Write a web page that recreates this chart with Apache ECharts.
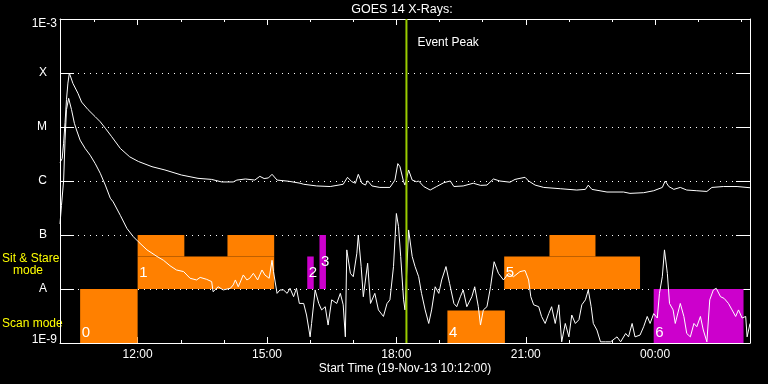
<!DOCTYPE html>
<html><head><meta charset="utf-8">
<script src="https://cdn.jsdelivr.net/npm/echarts@6/dist/echarts.min.js"></script>
<style>html,body{margin:0;padding:0;background:#000}#c{width:768px;height:384px}</style>
</head><body><div id="c"></div>
<script>
const chartTitle = 'GOES 14 X-Rays:';
const xAxisTitle = 'Start Time (19-Nov-13 10:12:00)';
const timeStart = '10:12';
const timeEnd = '02:12';
const xMajorTicks = ['12:00','15:00','18:00','21:00','00:00'];
const xMinorTicks = ['11:00','13:00','14:00','16:00','17:00','19:00','20:00','22:00','23:00','01:00','02:00'];
const yTickLabels = ['1E-9','A','B','C','M','X','1E-3'];
const yMin = 1e-9, yMax = 1e-3;
const eventPeakTime = '18:14';
const eventPeakLabel = 'Event Peak';
const modeLabels = ['Sit & Stare', 'mode', 'Scan mode'];

// GOES long channel (1-8 A), [time, W/m^2]
const longChannel = [['10:12',2.2e-6],['10:15',2.6e-6],['10:17',5.0e-6],['10:19',1.2e-5],['10:21',3.2e-5],['10:23',6.5e-5],['10:25',1.0e-4],['10:27',1.0e-4],['10:30',6.4e-5],['10:37',4.2e-5],['10:42',2.9e-5],['10:51',2.1e-5],['11:01',1.55e-5],['11:08',1.25e-5],['11:15',9.5e-6],['11:24',6.6e-6],['11:36',4.0e-6],['11:49',2.8e-6],['12:01',2.3e-6],['12:20',1.84e-6],['12:38',1.6e-6],['13:01',1.29e-6],['13:24',1.12e-6],['13:43',1.07e-6],['13:57',9.6e-7],['14:13',9.6e-7],['14:18',1.04e-6],['14:30',1.09e-6],['14:43',1.04e-6],['14:50',1.22e-6],['14:56',1.11e-6],['15:02',1.14e-6],['15:07',1.33e-6],['15:14',1.04e-6],['15:30',9.9e-7],['15:46',9.1e-7],['15:51',8.7e-7],['16:09',8.1e-7],['16:28',7.9e-7],['16:46',8.7e-7],['16:52',1.17e-6],['16:58',9.7e-7],['17:03',9.1e-7],['17:07',1.33e-6],['17:12',9.1e-7],['17:17',8.4e-7],['17:20',1.01e-6],['17:26',8.1e-7],['17:37',7.6e-7],['17:51',7.6e-7],['17:58',1.04e-6],['18:02',2.1e-6],['18:05',1.84e-6],['18:10',9.7e-7],['18:12',8.4e-7],['18:17',1.6e-6],['18:22',1.04e-6],['18:28',9.7e-7],['18:31',1.0e-6],['18:38',7.9e-7],['18:47',6.8e-7],['18:56',7.9e-7],['19:06',9.3e-7],['19:15',1.0e-6],['19:20',7.9e-7],['19:33',8.1e-7],['19:47',9.1e-7],['19:57',8.3e-7],['20:06',8.4e-7],['20:15',1.09e-6],['20:24',1.0e-6],['20:38',9.5e-7],['20:45',1.07e-6],['20:52',1.12e-6],['20:59',1.17e-6],['21:04',1.0e-6],['21:13',8.4e-7],['21:25',7.6e-7],['21:48',7.2e-7],['22:11',6.8e-7],['22:23',7.0e-7],['22:27',8.4e-7],['22:32',7.0e-7],['22:53',6.25e-7],['23:16',6.25e-7],['23:25',5.9e-7],['23:44',6.07e-7],['23:58',6.6e-7],['00:10',7.6e-7],['00:14',1.0e-6],['00:19',7.9e-7],['00:26',7.0e-7],['00:35',7.6e-7],['00:44',6.8e-7],['00:58',6.6e-7],['01:12',6.4e-7],['01:19',7.6e-7],['01:35',7.9e-7],['01:54',7.9e-7],['02:12',7.5e-7]];

// GOES short channel (0.5-4 A), [time, W/m^2]
const shortChannel = [['10:12',1.6e-7],['10:14',3.5e-7],['10:17',1.0e-6],['10:19',5.7e-6],['10:21',2.1e-5],['10:24',3.4e-5],['10:26',3.2e-5],['10:28',2.1e-5],['10:32',1.17e-5],['10:35',8.8e-6],['10:40',5.7e-6],['10:47',4.0e-6],['10:54',3.0e-6],['11:01',2.1e-6],['11:08',1.39e-6],['11:15',8.4e-7],['11:22',4.8e-7],['11:26',4.1e-7],['11:36',2.3e-7],['11:45',1.33e-7],['11:54',9.3e-8],['12:01',7.5e-8],['12:13',5.3e-8],['12:27',4.0e-8],['12:36',3.4e-8],['12:45',2.7e-8],['12:54',2.25e-8],['13:04',2.1e-8],['13:13',1.58e-8],['13:22',1.47e-8],['13:27',1.64e-8],['13:36',1.51e-8],['13:43',1.37e-8],['13:45',8.9e-9],['13:52',1.1e-8],['13:59',9.6e-9],['14:09',1.03e-8],['14:13',1.19e-8],['14:16',1.47e-8],['14:20',1.1e-8],['14:27',1.82e-8],['14:32',1.47e-8],['14:36',1.58e-8],['14:41',1.95e-8],['14:47',1.47e-8],['14:53',2.25e-8],['14:57',1.82e-8],['15:03',1.58e-8],['15:07',3.4e-8],['15:09',2.1e-8],['15:14',8.3e-9],['15:18',9.6e-9],['15:23',9.6e-9],['15:28',8.3e-9],['15:32',1.03e-8],['15:37',7.2e-9],['15:41',1.03e-8],['15:45',5.4e-9],['15:51',5.4e-9],['15:55',3.3e-9],['16:00',1.3e-9],['16:02',2.3e-9],['16:07',9.6e-9],['16:12',5.4e-9],['16:16',4.1e-9],['16:21',4.7e-9],['16:25',2.15e-9],['16:30',6.3e-9],['16:37',5.4e-9],['16:42',8.3e-9],['16:46',5.1e-9],['16:49',1.3e-9],['16:51',5.3e-8],['16:56',1.95e-8],['17:00',1.69e-8],['17:05',4.6e-8],['17:07',1.0e-7],['17:11',2.6e-8],['17:14',7.2e-9],['17:20',3.0e-8],['17:24',5.4e-9],['17:30',8.3e-9],['17:35',4.1e-9],['17:42',3.1e-9],['17:47',5.4e-9],['17:51',6.3e-9],['17:56',2.6e-8],['18:00',2.5e-7],['18:03',1.43e-7],['18:06',4.0e-8],['18:10',6.3e-9],['18:12',4.1e-9],['18:17',1.24e-7],['18:22',4.0e-8],['18:26',2.6e-8],['18:31',1.69e-8],['18:35',8.3e-9],['18:40',4.1e-9],['18:45',2.3e-9],['18:49',4.1e-9],['18:54',1.1e-8],['18:59',8.3e-9],['19:03',1.47e-8],['19:09',2.6e-8],['19:14',1.27e-8],['19:20',5.4e-9],['19:24',4.7e-9],['19:29',7.2e-9],['19:33',9.6e-9],['19:38',4.7e-9],['19:45',7.2e-9],['19:49',1.1e-8],['19:54',4.7e-9],['19:57',2.15e-9],['20:01',4.1e-9],['20:06',4.7e-9],['20:11',1.1e-8],['20:16',3.2e-8],['20:22',1.95e-8],['20:29',1.47e-8],['20:36',1.95e-8],['20:43',1.69e-8],['20:52',2.1e-8],['20:59',2.2e-8],['21:04',1.47e-8],['21:07',7.2e-9],['21:11',5.1e-9],['21:18',4.7e-9],['21:22',3.1e-9],['21:27',2.3e-9],['21:32',3.5e-9],['21:36',4.7e-9],['21:41',2.3e-9],['21:46',5.1e-9],['21:50',1.05e-9],['21:55',2.3e-9],['22:00',1.3e-9],['22:04',3.3e-9],['22:09',2.3e-9],['22:14',2.7e-9],['22:18',5.1e-9],['22:23',6.3e-9],['22:27',9.6e-9],['22:31',4.7e-9],['22:34',2.3e-9],['22:39',1.74e-9],['22:44',1.05e-9],['22:51',1.05e-9],['22:58',1.05e-9],['23:07',1.3e-9],['23:12',1.05e-9],['23:19',1.5e-9],['23:23',1.3e-9],['23:28',2.3e-9],['23:32',1.3e-9],['23:39',1.4e-9],['23:44',2.0e-9],['23:49',3.1e-9],['23:53',2.3e-9],['23:58',3.5e-9],['00:03',2.9e-9],['00:06',8.3e-9],['00:10',1.69e-8],['00:13',5.3e-8],['00:17',1.95e-8],['00:20',5.4e-9],['00:25',4.1e-9],['00:28',2.3e-9],['00:35',5.4e-9],['00:40',3.1e-9],['00:44',1.5e-9],['00:49',1.3e-9],['00:54',2.3e-9],['00:58',2.0e-9],['01:03',3.1e-9],['01:07',1.74e-9],['01:12',1.05e-9],['01:16',6.3e-9],['01:21',9.6e-9],['01:25',1.03e-8],['01:31',7.2e-9],['01:36',6.7e-9],['01:42',5.4e-9],['01:47',4.1e-9],['01:52',3.1e-9],['01:56',4.1e-9],['02:01',2.9e-9],['02:06',3.1e-9],['02:08',1.3e-9],['02:12',2.3e-9]];

// observation boxes
const boxLabels = ['0','1','2','3','4','5','6'];
const boxKinds = ['orange','orange','magenta','magenta','orange','orange','magenta'];
// [box index, start, end, low flux, high flux]
const boxSegments = [
  [0,'10:40','12:00',1e-9,1e-8],
  [1,'12:00','15:10',1e-8,4e-8],
  [1,'12:00','13:05',4e-8,1e-7],
  [1,'14:05','15:10',4e-8,1e-7],
  [2,'15:56','16:05',1e-8,4e-8],
  [3,'16:13','16:22',1e-8,1e-7],
  [4,'19:11','20:31',1e-9,4e-9],
  [5,'20:30','23:39',1e-8,4e-8],
  [5,'21:33','22:37',4e-8,1e-7],
  [6,'23:58','02:03',1e-9,1e-8]
];

const kindColors = {orange:'#ff8000', magenta:'#cc00cc'};
const peakColor = '#99cc00';
const FONT = '"Liberation Sans", Arial, sans-serif';

function toMin(s){ const p=s.split(':').map(Number); let t=p[0]*60+p[1]; if(p[0]<10) t+=1440; return t; }
function fmtTime(v){ const h=Math.floor(v/60)%24, m=Math.round(v%60); return String(h).padStart(2,'0')+':'+String(m).padStart(2,'0'); }

const majorVals = xMajorTicks.map(toMin);
const minorVals = xMinorTicks.map(toMin);
const xmin = toMin(timeStart), xmax = toMin(timeEnd);
const white = '#ffffff';

function xAx(pos, vals, len, showLine, showLabel, extra){
  return Object.assign({
    type:'value', position:pos, min:xmin, max:xmax,
    splitLine:{show:false},
    axisLine:{show:showLine, onZero:false, lineStyle:{color:white,width:1}},
    axisTick:{show:true, inside:true, length:len, customValues:vals, lineStyle:{color:white,width:1}},
    axisLabel:{show:showLabel, customValues:vals, formatter:fmtTime, color:white, fontSize:12, fontFamily:FONT, margin:6}
  }, extra||{});
}

const chart = echarts.init(document.getElementById('c'), null, {renderer:'canvas'});
chart.setOption({
  backgroundColor:'#000',
  animation:false,
  grid:{left:60, top:19, right:18, bottom:41, containLabel:false},
  xAxis:[
    xAx('bottom', minorVals, 3, true, false, {name:xAxisTitle, nameLocation:'middle', nameGap:20, nameTextStyle:{color:white, fontSize:12, fontFamily:FONT}}),
    xAx('bottom', majorVals, 6, false, true),
    xAx('top', minorVals, 3, true, false),
    xAx('top', majorVals, 6, false, false)
  ],
  yAxis:[
    {type:'log', logBase:10, min:yMin, max:yMax, position:'left',
     axisLine:{show:true, onZero:false, lineStyle:{color:white,width:1}},
     axisTick:{show:true, inside:true, length:14, lineStyle:{color:white,width:1}},
     splitLine:{show:true, lineStyle:{color:white, width:1, type:[1,5]}},
     axisLabel:{color:white, fontSize:12, fontFamily:FONT, margin:3,
       formatter:function(v){
         const i=Math.round(Math.log10(v))+9; const t=yTickLabels[i];
         if(i===0) return '{bot|'+t+'}';
         if(i===yTickLabels.length-1) return '{top|'+t+'}';
         return '{let|'+t+'}';
       },
       rich:{
         bot:{color:white, fontSize:12, fontFamily:FONT, padding:[0,0,6,0]},
         top:{color:white, fontSize:12, fontFamily:FONT, padding:[9,0,0,0]},
         let:{color:white, fontSize:12, fontFamily:FONT, padding:[0,10,0,0]}
       }}
    },
    {type:'log', logBase:10, min:yMin, max:yMax, position:'right',
     axisLine:{show:true, onZero:false, lineStyle:{color:white,width:1}},
     axisTick:{show:true, inside:true, length:14, lineStyle:{color:white,width:1}},
     splitLine:{show:false}, axisLabel:{show:false}}
  ],
  graphic:[
    {type:'text', x:402, y:10, style:{text:chartTitle, fill:white, font:'12.5px '+FONT, align:'center', textAlign:'center', verticalAlign:'middle', textVerticalAlign:'middle'}},
    {type:'text', x:2, y:259, style:{text:modeLabels[0], fill:'#ffff00', font:'12px '+FONT, verticalAlign:'middle', textVerticalAlign:'middle'}},
    {type:'text', x:13, y:271, style:{text:modeLabels[1], fill:'#ffff00', font:'12px '+FONT, verticalAlign:'middle', textVerticalAlign:'middle'}},
    {type:'text', x:2, y:324, style:{text:modeLabels[2], fill:'#ffff00', font:'12px '+FONT, verticalAlign:'middle', textVerticalAlign:'middle'}}
  ],
  series:[
    {type:'custom', name:'boxes', xAxisIndex:0, yAxisIndex:0, z:1, clip:true,
     encode:{x:[0,1], y:[2,3]},
     data: boxSegments.map(s=>[toMin(s[1]), toMin(s[2]), s[3], s[4], s[0]]),
     renderItem:function(params, api){
       const t0=api.value(0), t1=api.value(1), lo=api.value(2), hi=api.value(3), b=api.value(4);
       const p0=api.coord([t0,hi]), p1=api.coord([t1,lo]);
       const children=[{type:'rect', shape:{x:p0[0], y:p0[1], width:p1[0]-p0[0], height:p1[1]-p0[1]}, style:{fill:kindColors[boxKinds[b]]}}];
       const first = boxSegments.findIndex(s=>s[0]===b);
       if(first===params.dataIndex){
         const cy = lo<=yMin ? p1[1]-10.5 : (p0[1]+p1[1])/2;
         children.push({type:'text', x:p0[0]+1.5, y:cy, style:{text:boxLabels[b], fill:white, font:'15px "Liberation Sans Narrow", '+FONT, verticalAlign:'middle', textVerticalAlign:'middle'}});
       }
       return {type:'group', children};
     }},
    {type:'line', name:'long', xAxisIndex:0, yAxisIndex:0, z:3, showSymbol:false, symbol:'none',
     lineStyle:{color:white, width:1}, data: longChannel.map(d=>[toMin(d[0]), d[1]])},
    {type:'line', name:'short', xAxisIndex:0, yAxisIndex:0, z:3, showSymbol:false, symbol:'none',
     lineStyle:{color:white, width:1}, data: shortChannel.map(d=>[toMin(d[0]), d[1]])},
    {type:'custom', name:'peak', xAxisIndex:0, yAxisIndex:0, z:5, clip:false,
     encode:{x:0, y:1},
     data:[[toMin(eventPeakTime), yMax]],
     renderItem:function(params, api){
       const t=api.value(0);
       const a=api.coord([t,yMax]), b=api.coord([t,yMin]);
       return {type:'group', children:[
         {type:'line', shape:{x1:a[0], y1:a[1], x2:b[0], y2:b[1]}, style:{stroke:peakColor, lineWidth:2}},
         {type:'text', x:a[0]+11, y:a[1]+24, style:{text:eventPeakLabel, fill:white, font:'12px '+FONT, verticalAlign:'middle', textVerticalAlign:'middle'}}
       ]};
     }}
  ]
});
</script></body></html>
